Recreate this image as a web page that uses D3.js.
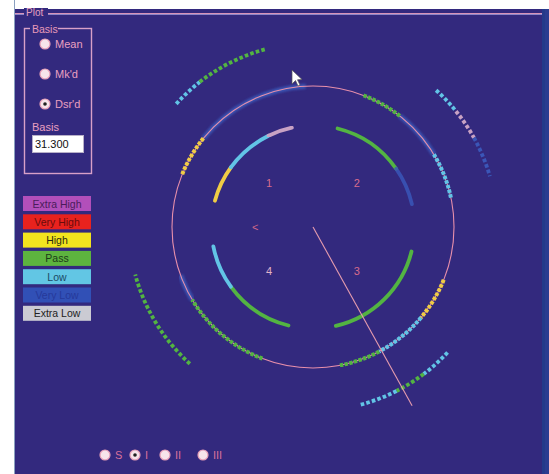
<!DOCTYPE html>
<html>
<head>
<meta charset="utf-8">
<script src="https://cdn.jsdelivr.net/npm/d3@7"></script>
<style>
  body { margin: 0; background: #fff; }
  svg { display: block; font-family: "Liberation Sans", Arial, sans-serif; }
</style>
</head>
<body>
<div id="chart"></div>
<script>
// grading categories (legend order)
var categories = ["Extra High", "Very High", "High", "Pass", "Low", "Very Low", "Extra Low"];
var legendFill = ["#b24fba", "#e8221e", "#f2e41e", "#5db43f", "#62c6e4", "#3150b6", "#cbcbd3"];
var legendText = ["#4a1c5a", "#6a0c0c", "#2a2a10", "#1c3a18", "#1c4a66", "#26399a", "#222222"];
var markFill   = ["#c060c0", "#e83030", "#f0cc44", "#52b442", "#62c4e6", "#3a56b8", "#c8a2c4"];

// segments: [from deg, to deg (clockwise from north), category]
var innerSegs = [
  [285, 306, "High"], [306, 334, "Low"], [334, 348, "Extra Low"],
  [14, 55, "Pass"], [55, 77, "Very Low"],
  [104, 167, "Pass"],
  [194, 234, "Pass"], [234, 259, "Low"]
];
var midSegs = [
  [292, 309, "High"], [309, 357, "Very Low"],
  [21, 38, "Pass"], [38, 59, "Very Low"], [59, 78, "Low"],
  [112, 130, "High"], [130, 152, "Low"], [152, 169, "Pass"],
  [201, 239, "Pass"], [239, 250, "Very Low"]
];
var outerSegs = [
  [312, 322, "Low"], [322, 345, "Pass"],
  [42, 51, "Low"], [51, 61, "Extra Low"], [61, 74, "Very Low"],
  [133, 143, "Low"], [143, 153, "Pass"], [153, 165, "Low"],
  [222, 255, "Pass"]
];
var ringLevel = { inner: 0.72, mid: 1.0, outer: 1.305 };
var quadrantLabels = ["1", "2", "3", "4"];
var quadrantAngles = [315, 45, 135, 225];
var pointerAngle = 151, pointerLength = 1.45;
var basisOptions = ["Mean", "Mk'd", "Dsr'd"], basisSelected = 2, basisValue = "31.300";
var viewOptions = ["S", "I", "II", "III"], viewSelected = 1;

var W = 549, H = 474, bg = "#33297e", pink = "#e78fab";
var cx = 313, cy = 227;

var svg = d3.select("#chart").append("svg").attr("width", W).attr("height", H);
var defs = svg.append("defs");
defs.append("filter").attr("id", "soft").attr("x", "-10%").attr("y", "-10%").attr("width", "120%").attr("height", "120%")
  .append("feGaussianBlur").attr("stdDeviation", 0.45);
defs.append("filter").attr("id", "glow").attr("x", "-10%").attr("y", "-10%").attr("width", "120%").attr("height", "120%")
  .append("feGaussianBlur").attr("stdDeviation", 1.2);

// window / panel
svg.append("rect").attr("width", W).attr("height", H).attr("fill", "#fff");
svg.append("rect").attr("x", 15).attr("y", 9).attr("width", 527).attr("height", H - 9).attr("fill", bg);
svg.append("rect").attr("x", 542).attr("y", 9).attr("width", 3).attr("height", H - 9).attr("fill", "#243a8a");
svg.append("rect").attr("x", 545).attr("y", 9).attr("width", 4).attr("height", H - 9).attr("fill", "#2b3c90");
svg.append("line").attr("x1", 14.5).attr("x2", 14.5).attr("y1", 0).attr("y2", H).attr("stroke", "#8aa0c0");

// "Plot" group frame
svg.append("line").attr("x1", 15).attr("x2", 542).attr("y1", 13.5).attr("y2", 13.5).attr("stroke", "#d894b8");
svg.append("line").attr("x1", 15).attr("x2", 542).attr("y1", 14.5).attr("y2", 14.5).attr("stroke", "#8c86c8");
svg.append("rect").attr("x", 24).attr("y", 8).attr("width", 24).attr("height", 10).attr("fill", bg);
svg.append("text").attr("x", 26).attr("y", 16).attr("fill", "#e4a0c0").attr("font-size", 10).text("Plot");

// Basis group
svg.append("rect").attr("x", 24.5).attr("y", 28.5).attr("width", 67).attr("height", 145)
  .attr("fill", "none").attr("stroke", "#d8a0c8").attr("stroke-width", 1.4);
svg.append("rect").attr("x", 30).attr("y", 23).attr("width", 28).attr("height", 11).attr("fill", bg);
svg.append("text").attr("x", 32).attr("y", 33).attr("fill", "#e89ab8").attr("font-size", 10.5).text("Basis");

function radio(g, x, y, on) {
  g.append("circle").attr("cx", x).attr("cy", y).attr("r", 5).attr("fill", "#f7e4ea")
    .attr("stroke", "#e8a0b8").attr("stroke-width", 1.2);
  if (on) g.append("circle").attr("cx", x).attr("cy", y).attr("r", 1.8).attr("fill", "#222");
}
var basisG = svg.append("g");
basisOptions.forEach(function(o, i) {
  var y = 44 + i * 30;
  radio(basisG, 45, y, i === basisSelected);
  basisG.append("text").attr("x", 55).attr("y", y + 4).attr("fill", "#eaa0c0").attr("font-size", 11).text(o);
});
svg.append("text").attr("x", 32).attr("y", 131).attr("fill", "#eaa0c0").attr("font-size", 11).text("Basis");
svg.append("rect").attr("x", 32.5).attr("y", 135.5).attr("width", 51).attr("height", 17)
  .attr("fill", "#fff").attr("stroke", "#b8b0c8");
svg.append("text").attr("x", 35).attr("y", 148).attr("fill", "#111").attr("font-size", 11).text(basisValue);

// legend
var leg = svg.append("g").selectAll("g").data(categories).enter().append("g")
  .attr("transform", function(d, i) { return "translate(23," + (196 + i * 18.3) + ")"; });
leg.append("rect").attr("width", 68).attr("height", 15)
  .attr("fill", function(d, i) { return legendFill[i]; });
leg.append("text").attr("x", 34).attr("y", 11.5).attr("text-anchor", "middle").attr("font-size", 10.5)
  .attr("fill", function(d, i) { return legendText[i]; }).text(function(d) { return d; });

// polar plot
var color = d3.scaleOrdinal().domain(categories).range(markFill);
var angle = d3.scaleLinear().domain([0, 360]).range([-Math.PI / 2, Math.PI * 1.5]);
var rScale = d3.scaleLinear().domain([0, 1]).range([0, 141]);

function arcPath(s, level) {
  var p = d3.path();
  var a0 = angle(s[0]), a1 = angle(s[1] < s[0] ? s[1] + 360 : s[1]), r = rScale(level);
  p.moveTo(cx + r * Math.cos(a0), cy + r * Math.sin(a0));
  p.arc(cx, cy, r, a0, a1);
  return p.toString();
}

var plot = svg.append("g");

plot.selectAll(".inner").data(innerSegs).enter().append("path").attr("class", "inner")
  .attr("d", function(d) { return arcPath(d, ringLevel.inner); })
  .attr("fill", "none").attr("stroke", function(d) { return color(d[2]); })
  .attr("stroke-width", 3.8).attr("stroke-linecap", "round")
  .attr("stroke-opacity", function(d) { return d[2] === "Very Low" ? 0.85 : 1; })
  .attr("filter", "url(#soft)");

var midLow = midSegs.filter(function(d) { return d[2] === "Very Low"; });
var midRest = midSegs.filter(function(d) { return d[2] !== "Very Low"; });

plot.selectAll(".midlow").data(midLow).enter().append("path").attr("class", "midlow")
  .attr("d", function(d) { return arcPath(d, ringLevel.mid); })
  .attr("fill", "none").attr("stroke", function(d) { return color(d[2]); })
  .attr("stroke-width", 5).attr("stroke-opacity", 0.9).attr("filter", "url(#glow)");

// main circle
plot.append("circle").attr("cx", cx).attr("cy", cy).attr("r", rScale(1))
  .attr("fill", "none").attr("stroke", pink).attr("stroke-width", 1.1);

plot.selectAll(".mid").data(midRest).enter().append("path").attr("class", "mid")
  .attr("d", function(d) { return arcPath(d, ringLevel.mid); })
  .attr("fill", "none").attr("stroke", function(d) { return color(d[2]); })
  .attr("stroke-width", 4).attr("stroke-dasharray", "3.4 1.4").attr("filter", "url(#soft)");

plot.selectAll(".outer").data(outerSegs).enter().append("path").attr("class", "outer")
  .attr("d", function(d) { return arcPath(d, ringLevel.outer); })
  .attr("fill", "none").attr("stroke", function(d) { return color(d[2]); })
  .attr("stroke-width", 3.8).attr("stroke-dasharray", "3.6 2.2").attr("filter", "url(#soft)");

// pointer
var pa = angle(pointerAngle);
plot.append("line").attr("x1", cx).attr("y1", cy)
  .attr("x2", cx + rScale(pointerLength) * Math.cos(pa))
  .attr("y2", cy + rScale(pointerLength) * Math.sin(pa))
  .attr("stroke", "#e69cae").attr("stroke-width", 1.1);

// quadrant labels
plot.selectAll(".ql").data(quadrantLabels).enter().append("text").attr("class", "ql")
  .attr("x", function(d, i) { return cx + rScale(0.44) * Math.cos(angle(quadrantAngles[i])); })
  .attr("y", function(d, i) { return cy + rScale(0.44) * Math.sin(angle(quadrantAngles[i])) + 4; })
  .attr("text-anchor", "middle").attr("font-size", 11)
  .attr("fill", function(d) { return d === "4" ? "#e0b4c8" : "#d86c8c"; })
  .text(function(d) { return d; });
plot.append("text").attr("x", cx + rScale(0.41) * Math.cos(angle(270)))
  .attr("y", cy + 4).attr("text-anchor", "middle").attr("font-size", 11)
  .attr("fill", "#d06888").text("<");

// mouse cursor from the screenshot
svg.append("path").attr("d", "M292,70 L292,84 L295.5,80.5 L298,86 L300,85 L297.5,79.8 L302,79.5 Z")
  .attr("fill", "#fff").attr("stroke", "#555").attr("stroke-width", 0.7);

// view radios
var viewG = svg.append("g");
var viewX = [105, 135, 165, 203];
viewOptions.forEach(function(o, i) {
  radio(viewG, viewX[i], 455, i === viewSelected);
  viewG.append("text").attr("x", viewX[i] + 10).attr("y", 459).attr("fill", "#d8709a")
    .attr("font-size", 11).text(o);
});
</script>
</body>
</html>
